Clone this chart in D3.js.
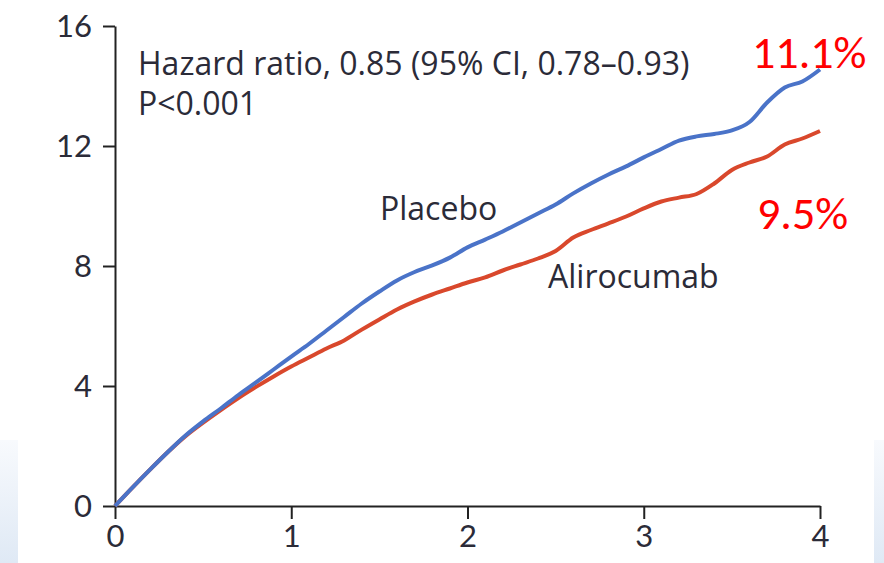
<!DOCTYPE html>
<html>
<head>
<meta charset="utf-8">
<script src="https://cdn.jsdelivr.net/npm/d3@7"></script>
<style>
  html, body { margin: 0; padding: 0; background: #fff; }
  svg { display: block; }
  text { font-family: "Open Sans", Lato, sans-serif; }
</style>
</head>
<body>
<svg id="chart" width="884" height="563"></svg>
<script>
// Years of follow-up (x) and cumulative incidence, % (y)
const years = [0, 0.1, 0.2, 0.3, 0.4, 0.5, 0.6, 0.7, 0.8, 0.9, 1.0,
  1.1, 1.2, 1.3, 1.4, 1.5, 1.6, 1.7, 1.8, 1.9, 2.0,
  2.1, 2.2, 2.3, 2.4, 2.5, 2.6, 2.7, 2.8, 2.9, 3.0,
  3.1, 3.2, 3.3, 3.4, 3.5, 3.6, 3.7, 3.8, 3.9, 4.0];

const placebo = [0, 0.62, 1.22, 1.80, 2.35, 2.82, 3.25, 3.70, 4.12, 4.55, 4.98,
  5.40, 5.85, 6.30, 6.75, 7.15, 7.52, 7.80, 8.02, 8.28, 8.62,
  8.88, 9.15, 9.45, 9.75, 10.05, 10.42, 10.75, 11.05, 11.32, 11.62,
  11.90, 12.18, 12.32, 12.40, 12.52, 12.80, 13.45, 13.95, 14.15, 14.55];

const alirocumab = [0, 0.62, 1.22, 1.80, 2.33, 2.78, 3.20, 3.60, 3.97, 4.32, 4.65,
  4.95, 5.25, 5.52, 5.88, 6.22, 6.55, 6.82, 7.05, 7.25, 7.45,
  7.62, 7.85, 8.05, 8.25, 8.50, 8.95, 9.20, 9.42, 9.65, 9.92,
  10.15, 10.28, 10.40, 10.75, 11.20, 11.45, 11.65, 12.05, 12.25, 12.50];

const xTicks = [0, 1, 2, 3, 4];
const yTicks = [0, 4, 8, 12, 16];

const statLines = ["Hazard ratio, 0.85 (95% CI, 0.78\u20130.93)", "P<0.001"];
const rateLabels = ["11.1%", "9.5%"];

const svg = d3.select("#chart");

// soft slide background at the lower corners
const defs = svg.append("defs");
const g1 = defs.append("linearGradient").attr("id", "slideBg").attr("x1", 0).attr("y1", 0).attr("x2", 0).attr("y2", 1);
g1.append("stop").attr("offset", 0).attr("stop-color", "#f8fafd");
g1.append("stop").attr("offset", 1).attr("stop-color", "#dfe9f5");
svg.append("rect").attr("x", 0).attr("y", 440).attr("width", 18).attr("height", 123).attr("fill", "url(#slideBg)");
svg.append("rect").attr("x", 874).attr("y", 440).attr("width", 10).attr("height", 123).attr("fill", "url(#slideBg)");

const x = d3.scaleLinear().domain([0, 4]).range([115, 820]);
const y = d3.scaleLinear().domain([0, 16]).range([506, 26]);

const ink = "#2b2b38";

// y axis
const yAxis = svg.append("g")
  .attr("transform", `translate(${x(0)},0)`)
  .call(d3.axisLeft(y).tickValues(yTicks).tickFormat(d3.format("d"))
    .tickSize(12).tickPadding(11).tickSizeOuter(0));
yAxis.select(".domain").attr("stroke", "#222").attr("stroke-width", 2);
yAxis.selectAll(".tick line").attr("stroke", "#222").attr("stroke-width", 2);
yAxis.selectAll(".tick text")
  .attr("fill", ink).attr("font-size", 31).attr("dy", "0.34em")
  .style("font-family", "Lato, sans-serif");

// x axis
const xAxis = svg.append("g")
  .attr("transform", `translate(0,${y(0)})`)
  .call(d3.axisBottom(x).tickValues(xTicks).tickFormat(d3.format("d"))
    .tickSize(13).tickPadding(6).tickSizeOuter(0));
xAxis.select(".domain").attr("stroke", "#222").attr("stroke-width", 2);
xAxis.selectAll(".tick line").attr("stroke", "#222").attr("stroke-width", 2);
xAxis.selectAll(".tick text")
  .attr("fill", ink).attr("font-size", 31)
  .style("font-family", "Lato, sans-serif");

// curves
const line = d3.line()
  .x((d, i) => x(years[i]))
  .y(d => y(d))
  .curve(d3.curveMonotoneX);

svg.append("path").datum(alirocumab)
  .attr("d", line).attr("fill", "none")
  .attr("stroke", "#d9482c").attr("stroke-width", 4).attr("stroke-linejoin", "round");

svg.append("path").datum(placebo)
  .attr("d", line).attr("fill", "none")
  .attr("stroke", "#4a73c8").attr("stroke-width", 4).attr("stroke-linejoin", "round");

// statistics
svg.append("text").attr("x", 138).attr("y", 75).attr("font-size", 32).attr("fill", ink).text(statLines[0]);
svg.append("text").attr("x", 138).attr("y", 115).attr("font-size", 32).attr("fill", ink).text(statLines[1]);

// series labels
svg.append("text").attr("x", 380).attr("y", 220).attr("font-size", 32).attr("fill", ink).text("Placebo");
svg.append("text").attr("x", 548).attr("y", 288).attr("font-size", 32).attr("fill", ink).text("Alirocumab");

// event-rate annotations
svg.append("text").attr("x", 752).attr("y", 68).attr("font-size", 46).attr("fill", "#ff0000")
  .style("font-family", "Carlito, 'Open Sans', sans-serif").text(rateLabels[0]);
svg.append("text").attr("x", 757).attr("y", 229).attr("font-size", 46).attr("fill", "#ff0000")
  .style("font-family", "Carlito, 'Open Sans', sans-serif").text(rateLabels[1]);
</script>
</body>
</html>
